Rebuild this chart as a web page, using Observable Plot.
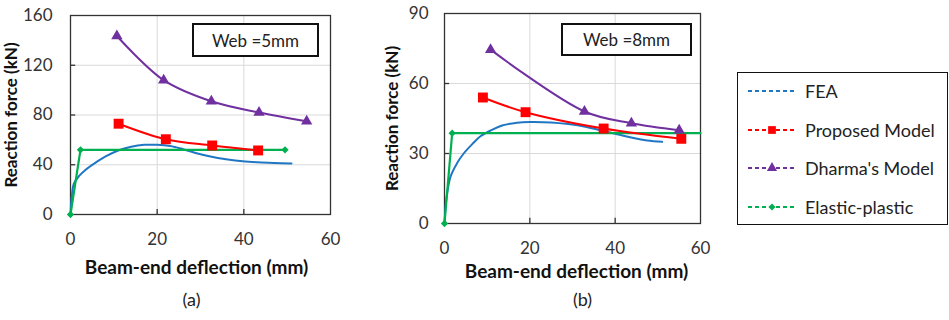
<!DOCTYPE html>
<html>
<head>
<meta charset="utf-8">
<script src="https://cdn.jsdelivr.net/npm/d3@7"></script>
<script src="https://cdn.jsdelivr.net/npm/@observablehq/plot@0.6"></script>
<style>
  html, body { margin: 0; padding: 0; background: #fff; }
  #root { position: relative; width: 949px; height: 320px; font-family: Lato, "Open Sans", sans-serif; }
  .panel { position: absolute; top: 0; }
  .webbox { position: absolute; border: 2px solid #111; box-sizing: border-box; display: flex; align-items: center; justify-content: center; font-size: 17px; color: #222; background: #fff; }
  #legend { position: absolute; left: 737px; top: 72px; width: 211px; height: 153px; border: 1.5px solid #111; box-sizing: border-box; background: #fff; }
  .lrow { position: absolute; left: 8px; display: flex; align-items: center; font-size: 18px; color: #222; }
  .lrow svg { margin-right: 7px; }
</style>
</head>
<body>
<div id="root"></div>
<script>
// ---------- data ----------
const xTicks = [0, 20, 40, 60];
const yTicksA = [0, 40, 80, 120, 160];
const yTicksB = [0, 30, 60, 90];

// Panel (a) Web = 5mm
const feaA_x = [0, 0.3, 0.8, 2, 3.5, 5.5, 8, 11, 14, 17, 20, 23, 26, 30, 34, 38, 43, 47, 51];
const feaA_y = [0, 15, 25, 31, 36, 41, 46.5, 51.5, 54.5, 56, 56, 55, 52.5, 48.5, 45.5, 43.5, 42, 41.5, 41];
const propA_x = [11.1, 22, 32.7, 43.3];
const propA_y = [73, 60.5, 55.5, 51.5];
const dharA_x = [10.7, 21.5, 32.5, 43.5, 54.5];
const dharA_y = [143.5, 108, 91, 82, 75];
const epA_x = [0, 2.3, 49.5];
const epA_y = [0, 52, 52];

// Panel (b) Web = 8mm
const feaB_x = [0, 0.4, 1.4, 3, 4.5, 6.5, 8.5, 11, 13.5, 17, 20, 25, 29, 33, 36.5, 40, 43, 47.5, 51];
const feaB_y = [0, 10, 20, 26, 30, 34, 37.5, 40, 42, 43.2, 43.5, 43.3, 42.6, 41.5, 40, 38.5, 37.2, 35.6, 35];
const propB_x = [9, 19, 37.3, 55.5];
const propB_y = [54, 47.7, 40.7, 36.3];
const dharB_x = [10.8, 32.8, 43.8, 55];
const dharB_y = [74.5, 48, 43, 40];
const epB_x = [0, 1.8, 60];
const epB_y = [0, 38.7, 38.7];

const seriesNames = ["FEA", "Proposed Model", "Dharma's Model", "Elastic-plastic"];
const colors = {"FEA": "#1f77c4", "Proposed Model": "#ff0000", "Dharma's Model": "#7030a0", "Elastic-plastic": "#00b050"};

const zip = (xs, ys) => xs.map((x, i) => ({x, y: ys[i], i}));

function panel(cfg) {
  const fea = zip(cfg.fea[0], cfg.fea[1]);
  const prop = zip(cfg.prop[0], cfg.prop[1]);
  const dhar = zip(cfg.dhar[0], cfg.dhar[1]);
  const ep = zip(cfg.ep[0], cfg.ep[1]);
  const epMarks = ep.filter(d => d.i < cfg.epMarkerCount);
  const gridY = cfg.yTicks.slice(1, -1);
  return Plot.plot({
    width: cfg.width, height: 320,
    marginLeft: cfg.ml, marginRight: cfg.mr, marginTop: cfg.mt, marginBottom: 320 - cfg.bottom,
    x: {domain: [0, 60], ticks: xTicks},
    y: {domain: cfg.yDomain, ticks: cfg.yTicks},
    style: {fontFamily: "Lato, 'Open Sans', sans-serif", fontSize: "16px", color: "#333", background: "transparent", overflow: "visible"},
    marks: [
      Plot.gridX([20, 40], {stroke: "#d9d9d9", strokeOpacity: 1, strokeWidth: 1}),
      Plot.gridY(gridY, {stroke: "#d9d9d9", strokeOpacity: 1, strokeWidth: 1}),
      Plot.frame({stroke: "#333", strokeWidth: 1.3}),
      Plot.axisX(xTicks, {tickSize: 0, tickPadding: 18, label: null, fontSize: 17, fill: "#333"}),
      Plot.axisY(cfg.yTicks, {tickSize: 0, tickPadding: cfg.ypad, label: null, fontSize: 17, fill: "#333"}),
      Plot.ruleX([20, 40], {y1: cfg.yDomain[0], y2: cfg.yDomain[1] * 0.025, stroke: "#333", strokeWidth: 1.3}),
      Plot.ruleY(gridY, {x1: 0, x2: 1.2, stroke: "#333", strokeWidth: 1.3}),
      Plot.line(fea, {x: "x", y: "y", stroke: colors["FEA"], strokeWidth: 2, curve: "catmull-rom"}),
      Plot.line(ep, {x: "x", y: "y", stroke: colors["Elastic-plastic"], strokeWidth: 2.2}),
      Plot.dot(epMarks, {x: "x", y: "y", symbol: "diamond2", r: 3.3, fill: colors["Elastic-plastic"], stroke: "none"}),
      Plot.line(prop, {x: "x", y: "y", stroke: colors["Proposed Model"], strokeWidth: 2, curve: "catmull-rom"}),
      Plot.dot(prop, {x: "x", y: "y", symbol: "square", r: 5.6, fill: colors["Proposed Model"], stroke: "none"}),
      Plot.line(dhar, {x: "x", y: "y", stroke: colors["Dharma's Model"], strokeWidth: 2, curve: "catmull-rom"}),
      Plot.dot(dhar, {x: "x", y: "y", symbol: "triangle", r: 4.2, fill: colors["Dharma's Model"], stroke: "none"}),
      Plot.text(["Beam-end deflection (mm)"], {frameAnchor: "bottom", dy: cfg.xTitleDy, dx: cfg.xTitleDx, lineAnchor: "middle", fontWeight: "bold", fontSize: 19, fill: "#111"}),
      Plot.text([cfg.tag], {frameAnchor: "bottom", dy: cfg.tagDy, dx: cfg.tagDx, lineAnchor: "middle", fontSize: 18, fill: "#222"}),
      Plot.text(["Reaction force (kN)"], {frameAnchor: "left", dx: cfg.yTitleDx, rotate: -90, lineAnchor: "middle", textAnchor: "middle", fontWeight: "bold", fontSize: 17, fill: "#111"})
    ]
  });
}

const root = document.getElementById("root");

const pa = panel({
  width: 345, ml: 70, mr: 15, mt: 15, bottom: 214, ypad: 18,
  yDomain: [0, 160], yTicks: yTicksA,
  fea: [feaA_x, feaA_y], prop: [propA_x, propA_y], dhar: [dharA_x, dharA_y], ep: [epA_x, epA_y], epMarkerCount: 3,
  xTitleDy: 53, xTitleDx: -4, tagDy: 86, tagDx: -9, tag: "(a)", yTitleDx: -59
});
const wa = document.createElement("div"); wa.className = "panel"; wa.style.left = "0px"; wa.appendChild(pa); root.appendChild(wa);

const pb = panel({
  width: 340, ml: 74, mr: 10, mt: 13, bottom: 223, ypad: 16,
  yDomain: [0, 90], yTicks: yTicksB,
  fea: [feaB_x, feaB_y], prop: [propB_x, propB_y], dhar: [dharB_x, dharB_y], ep: [epB_x, epB_y], epMarkerCount: 2,
  xTitleDy: 48, xTitleDx: 4, tagDy: 77, tagDx: 10, tag: "(b)", yTitleDx: -52
});
const wb = document.createElement("div"); wb.className = "panel"; wb.style.left = "370px"; wb.appendChild(pb); root.appendChild(wb);

// annotation boxes
function webBox(text, left, top, w, h) {
  const d = document.createElement("div");
  d.className = "webbox";
  Object.assign(d.style, {left: left + "px", top: top + "px", width: w + "px", height: h + "px"});
  d.textContent = text;
  root.appendChild(d);
}
webBox("Web =5mm", 192, 23, 127, 34);
webBox("Web =8mm", 561, 23, 131, 33);

// legend
const legend = document.createElement("div");
legend.id = "legend";
root.appendChild(legend);
const markerSym = {"FEA": null, "Proposed Model": d3.symbolSquare, "Dharma's Model": d3.symbolTriangle, "Elastic-plastic": d3.symbolDiamond2};
const markerSize = {"Proposed Model": 60, "Dharma's Model": 45, "Elastic-plastic": 32};
seriesNames.forEach((name, i) => {
  const row = document.createElement("div");
  row.className = "lrow";
  row.style.top = (7 + i * 38.5) + "px";
  const svg = d3.create("svg").attr("width", 52).attr("height", 20);
  svg.append("line").attr("x1", 2).attr("x2", 50).attr("y1", 10).attr("y2", 10)
    .attr("stroke", colors[name]).attr("stroke-width", 2).attr("stroke-dasharray", "4,3");
  if (markerSym[name]) {
    svg.append("path").attr("d", d3.symbol(markerSym[name], markerSize[name])()).attr("transform", "translate(26,10)").attr("fill", colors[name]);
  }
  row.appendChild(svg.node());
  const t = document.createElement("span");
  t.textContent = name;
  row.appendChild(t);
  legend.appendChild(row);
});
</script>
</body>
</html>
